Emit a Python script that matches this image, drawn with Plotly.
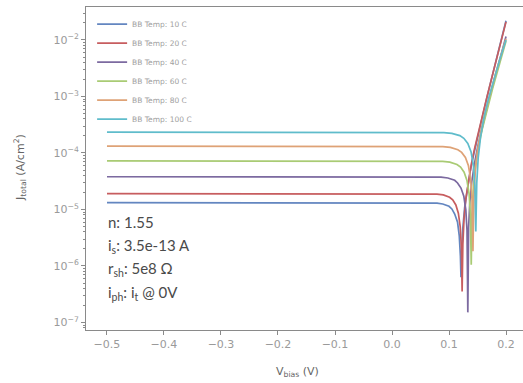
import plotly.graph_objects as go

# ---- data ----
labels = ["BB Temp: 10 C", "BB Temp: 20 C", "BB Temp: 40 C",
          "BB Temp: 60 C", "BB Temp: 80 C", "BB Temp: 100 C"]
colors = ["#6386c0", "#c75d5f", "#7c6aa0", "#a9cb74", "#dea276", "#5fbccb"]

v_10 = [-0.5, 0.0, 0.079, 0.089, 0.100, 0.105, 0.110, 0.115, 0.118, 0.120, 0.121,
        0.1223, 0.1242, 0.1274, 0.1316, 0.1369, 0.1422, 0.1528, 0.1634, 0.174,
        0.1846, 0.1952, 0.2]
j_10 = [1.318e-5, 1.318e-5, 1.294e-5, 1.253e-5, 1.14e-5, 1.023e-5, 8.32e-6, 5.94e-6,
        3.41e-6, 1.49e-6, 6.31e-7, 1.68e-6, 4.61e-6, 1.08e-5, 2.26e-5, 4.59e-5,
        8.41e-5, 2.52e-4, 7.06e-4, 1.95e-3, 5.31e-3, 1.45e-2, 2.19e-2]

v_20 = [-0.5, 0.0, 0.079, 0.090, 0.101, 0.1065, 0.112, 0.1164, 0.1197, 0.1217, 0.123,
        0.1243, 0.1263, 0.1296, 0.134, 0.1395, 0.145, 0.156, 0.167, 0.178, 0.189, 0.2]
j_20 = [1.905e-5, 1.905e-5, 1.871e-5, 1.811e-5, 1.648e-5, 1.479e-5, 1.202e-5, 8.59e-6,
        4.93e-6, 2.15e-6, 3.55e-7, 2.43e-6, 6.67e-6, 1.567e-5, 3.27e-5, 6.64e-5,
        1.216e-4, 3.64e-4, 1.021e-3, 2.81e-3, 7.67e-3, 2.09e-2]

v_40 = [-0.5, 0.0, 0.086, 0.098, 0.110, 0.115, 0.121, 0.126, 0.1295, 0.1316, 0.133,
        0.1344, 0.1365, 0.140, 0.1447, 0.1506, 0.1564, 0.1681, 0.1798, 0.1915, 0.2]
j_40 = [3.80e-5, 3.80e-5, 3.73e-5, 3.61e-5, 3.29e-5, 2.95e-5, 2.40e-5, 1.714e-5,
        9.84e-6, 4.30e-6, 1.51e-7, 4.85e-6, 1.33e-5, 3.13e-5, 6.53e-5, 1.324e-4,
        2.43e-4, 7.26e-4, 2.04e-3, 5.61e-3, 1.15e-2]

v_60 = [-0.5, 0.0, 0.089, 0.1015, 0.114, 0.1203, 0.1265, 0.1315, 0.1353, 0.1375, 0.139,
        0.1405, 0.1428, 0.1465, 0.1515, 0.1578, 0.164, 0.1765, 0.189, 0.2]
j_60 = [7.24e-5, 7.24e-5, 7.11e-5, 6.89e-5, 6.27e-5, 5.62e-5, 4.57e-5, 3.27e-5,
        1.875e-5, 8.18e-6, 1.05e-6, 9.25e-6, 2.54e-5, 5.96e-5, 1.245e-4, 2.52e-4,
        4.62e-4, 1.38e-3, 3.88e-3, 9.55e-3]

v_80 = [-0.5, 0.0, 0.0892, 0.1024, 0.1156, 0.1222, 0.1288, 0.1341, 0.138, 0.1404, 0.142,
        0.1436, 0.146, 0.1499, 0.1552, 0.1618, 0.1684, 0.1816, 0.1948, 0.2]
j_80 = [1.318e-4, 1.318e-4, 1.294e-4, 1.253e-4, 1.14e-4, 1.023e-4, 8.32e-5, 5.94e-5,
        3.41e-5, 1.49e-5, 1.82e-6, 1.68e-5, 4.61e-5, 1.084e-4, 2.26e-4, 4.59e-4,
        8.41e-4, 2.52e-3, 7.06e-3, 1.05e-2]

v_100 = [-0.5, 0.0, 0.091, 0.105, 0.119, 0.126, 0.133, 0.1386, 0.1428, 0.1453, 0.147,
         0.1487, 0.1512, 0.1554, 0.161, 0.168, 0.175, 0.189, 0.2]
j_100 = [2.344e-4, 2.344e-4, 2.30e-4, 2.23e-4, 2.03e-4, 1.82e-4, 1.479e-4, 1.057e-4,
         6.07e-5, 2.65e-5, 4.07e-6, 2.99e-5, 8.2e-5, 1.928e-4, 4.03e-4, 8.17e-4,
         1.496e-3, 4.48e-3, 1.0e-2]

x_ticks = [-0.5, -0.4, -0.3, -0.2, -0.1, 0.0, 0.1, 0.2]
x_ticktext = ["\u22120.5", "\u22120.4", "\u22120.3", "\u22120.2", "\u22120.1", "0.0", "0.1", "0.2"]
y_ticks = [1e-7, 1e-6, 1e-5, 1e-4, 1e-3, 1e-2]
y_ticktext = ["10<sup>\u22127</sup>", "10<sup>\u22126</sup>", "10<sup>\u22125</sup>",
              "10<sup>\u22124</sup>", "10<sup>\u22123</sup>", "10<sup>\u22122</sup>"]
info_lines = ["n: 1.55", "i<sub>s</sub>: 3.5e-13 A", "r<sub>sh</sub>: 5e8 \u03a9",
              "i<sub>ph</sub>: i<sub>t</sub> @ 0V"]

series_v = [v_10, v_20, v_40, v_60, v_80, v_100]
series_j = [j_10, j_20, j_40, j_60, j_80, j_100]

fig = go.Figure()
for lab, vv, jj, col in zip(labels, series_v, series_j, colors):
    fig.add_trace(go.Scatter(x=vv, y=jj, mode="lines", name=lab,
                             line=dict(color=col, width=1.7)))

minor_vals = [m * 10.0 ** e for e in range(-8, -1) for m in range(2, 10)]

axis_col = "#8a8a8a"
tick_font = dict(family="DejaVu Sans", size=11, color="#9a9a9a")

fig.update_layout(
    width=523, height=383,
    margin=dict(l=86, r=0, t=7, b=53),
    paper_bgcolor="white", plot_bgcolor="white",
    showlegend=True,
    legend=dict(x=0.014, y=0.992, xanchor="left", yanchor="top",
                bgcolor="rgba(0,0,0,0)", borderwidth=0,
                font=dict(family="DejaVu Sans", size=7.5, color="#a0a0a0"),
                traceorder="normal", itemwidth=30),
    xaxis=dict(range=[-0.5368, 0.2298], tickvals=x_ticks, ticktext=x_ticktext,
               showgrid=False, zeroline=False, showline=True, linecolor=axis_col,
               linewidth=1, mirror=True, ticks="outside", ticklen=4,
               tickcolor=axis_col, tickfont=tick_font),
    yaxis=dict(type="log", range=[-7.133, -1.416], tickvals=y_ticks,
               ticktext=y_ticktext, showgrid=False, zeroline=False, showline=True,
               linecolor=axis_col, linewidth=1, ticks="outside", ticklen=4,
               tickcolor=axis_col, tickfont=tick_font,
               minor=dict(tickvals=minor_vals, ticks="outside", ticklen=2,
                          tickcolor=axis_col, showgrid=False)),
)

# axis titles
fig.add_annotation(text="V<sub>bias</sub> (V)", xref="paper", yref="paper",
                   x=(297 - 86) / 437, y=-(372 - 330) / 323, showarrow=False,
                   font=dict(family="DejaVu Sans", size=11, color="#666666"),
                   xanchor="center", yanchor="middle")
fig.add_annotation(text="J<sub>total</sub> (A/cm<sup>2</sup>)", xref="paper", yref="paper",
                   x=-(86 - 20) / 437, y=1 - (168 - 7) / 323, showarrow=False,
                   textangle=-90,
                   font=dict(family="DejaVu Sans", size=11, color="#666666"),
                   xanchor="center", yanchor="middle")

# parameter text box
for k, t in enumerate(info_lines):
    fig.add_annotation(text=t, xref="paper", yref="paper",
                       x=(106 - 86) / 437, y=1 - (222 + 23.5 * k - 7) / 323,
                       showarrow=False, xanchor="left", yanchor="middle",
                       font=dict(family="Lato", size=15, color="#4a4a4a"))

fig.write_html("out.html", config={"displayModeBar": False},
               post_script="document.body.style.margin='0';")
